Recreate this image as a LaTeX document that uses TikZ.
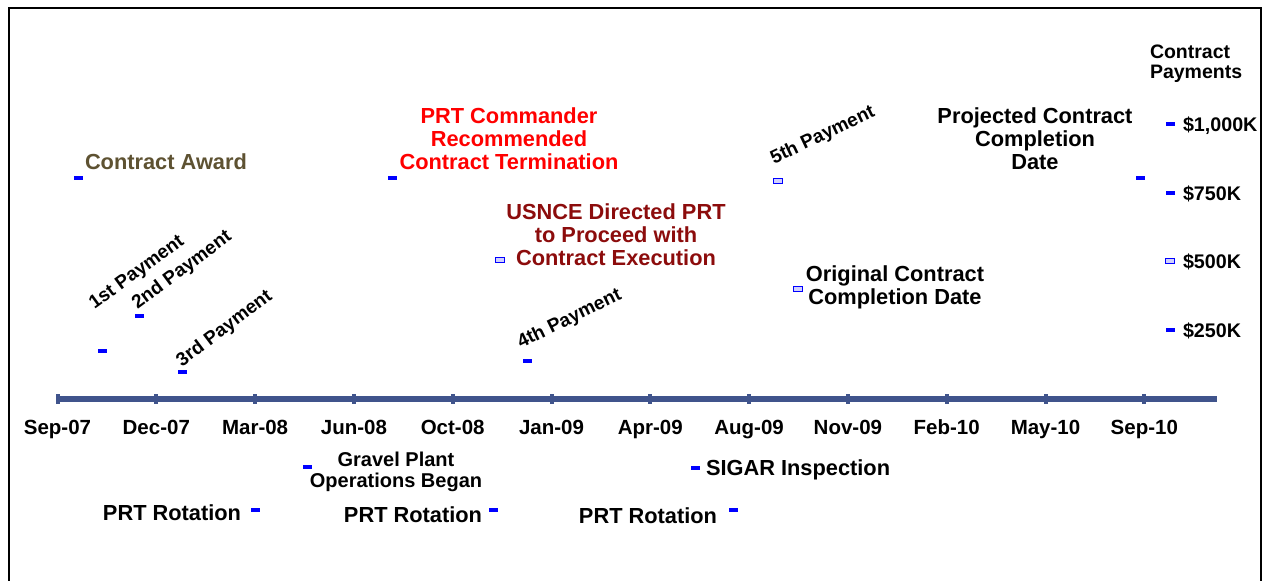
\documentclass[tikz,border=0pt]{standalone}
\usepackage{fontspec}
\setmainfont{Liberation Sans}
\usepackage{xcolor}

\definecolor{axisblue}{RGB}{64,84,140}
\definecolor{awardolive}{RGB}{94,82,50}
\definecolor{usncered}{RGB}{140,12,12}
\definecolor{markblue}{RGB}{0,0,255}

\begin{document}
\begin{tikzpicture}[x=0.5pt, y=-0.5pt,
    every node/.style = {inner sep=0, outer sep=0},
    evt/.style = {align=center, font=\bfseries\fontsize{10.9}{11.5}\selectfont},
    small/.style = {align=center, font=\bfseries\fontsize{10}{10.5}\selectfont},
    datelbl/.style = {anchor=base, font=\bfseries\fontsize{10.25}{12}\selectfont},
    paylbl/.style = {anchor=base west, font=\bfseries\fontsize{9.5}{10}\selectfont},
    amount/.style = {anchor=base west, font=\bfseries\fontsize{9.85}{10}\selectfont},
    dashmark/.style = {fill=markblue, minimum width=4.5pt, minimum height=1.6pt},
    boxmark/.style = {draw=markblue, line width=0.6pt, fill=markblue!18,
      minimum width=4.8pt, minimum height=2.2pt},
    tickbox/.style = {fill=axisblue, minimum width=2pt, minimum height=5pt},
    axisline/.style = {draw=axisblue, line width=2.6pt},
    framestroke/.style = {draw=black, line width=1.2pt}]
  \useasboundingbox (0,0) rectangle (1266,580);

  \coordinate (fr-bl) at (9,582);
  \coordinate (fr-tl) at (9,8);
  \coordinate (fr-tr) at (1261,8);
  \coordinate (fr-br) at (1261,582);
  \draw[framestroke] (fr-bl) -- (fr-tl) -- (fr-tr) -- (fr-br);

  % time axis
  \coordinate (axstart) at (57.5,399);
  \coordinate (axend) at (1217,399);
  \draw[axisline] (axstart) -- (axend);
  \foreach \d [count=\i from 0] in {Sep-07,Dec-07,Mar-08,Jun-08,Oct-08,Jan-09,
      Apr-09,Aug-09,Nov-09,Feb-10,May-10,Sep-10} {
    \node[tickbox] (tk\i) at ({57.5+98.8*\i},399) {};
    \node[datelbl] (dt\i) at ({57.5+98.8*\i},434.5) {\d};
  }

  % events above the axis
  \node[evt, anchor=base west, text=awardolive] (award) at (85,169) {Contract Award};
  \node[dashmark] (award-mk) at (78,178) {};
  \node[evt, anchor=north, text=red] (prtcmd) at (509,108)
    {PRT Commander\\Recommended\\Contract Termination};
  \node[dashmark] (prtcmd-mk) at (392,178) {};
  \node[evt, anchor=north, text=usncered] (usnce) at (616,204)
    {USNCE Directed PRT\\to Proceed with\\Contract Execution};
  \node[boxmark] (usnce-mk) at (500,260) {};
  \node[evt, anchor=north] (projected) at (1035,108)
    {Projected Contract\\Completion\\Date};
  \node[dashmark] (projected-mk) at (1140,178) {};
  \node[evt, anchor=north] (original) at (895,266)
    {Original Contract\\Completion Date};
  \node[boxmark] (original-mk) at (798,289) {};

  \node[paylbl, rotate=36] (pay1) at (94.5,309.5) {1st Payment};
  \node[dashmark] (pay1-mk) at (102,351) {};
  \node[paylbl, rotate=36.5] (pay2) at (137.5,309.5) {2nd Payment};
  \node[dashmark] (pay2-mk) at (139,316) {};
  \node[paylbl, rotate=37] (pay3) at (182,367) {3rd Payment};
  \node[dashmark] (pay3-mk) at (182,372) {};
  \node[paylbl, rotate=26] (pay4) at (521,348.5) {4th Payment};
  \node[dashmark] (pay4-mk) at (527,361) {};
  \node[paylbl, rotate=25.5] (pay5) at (774,164.5) {5th Payment};
  \node[boxmark] (pay5-mk) at (778,181) {};

  % contract payments scale
  \node[anchor=north west, align=left, font=\bfseries\fontsize{9.75}{10}\selectfont]
    (payhead) at (1150,45) {Contract\\Payments};
  \node[amount] (amt1000) at (1183,131) {\$1,000K};
  \node[dashmark] (amt1000-mk) at (1170,124) {};
  \node[amount] (amt750) at (1183,200) {\$750K};
  \node[dashmark] (amt750-mk) at (1170,193) {};
  \node[amount] (amt500) at (1183,268) {\$500K};
  \node[boxmark] (amt500-mk) at (1170,261) {};
  \node[amount] (amt250) at (1183,337) {\$250K};
  \node[dashmark] (amt250-mk) at (1170,330) {};

  % events below the axis
  \node[small, anchor=north] (gravel) at (396,452)
    {Gravel Plant\\Operations Began};
  \node[dashmark] (gravel-mk) at (307,467) {};
  \node[evt, anchor=base west] (sigar) at (706,475) {SIGAR Inspection};
  \node[dashmark] (sigar-mk) at (695,468) {};
  \node[evt, anchor=base] (rot1) at (172,520) {PRT Rotation};
  \node[dashmark] (rot1-mk) at (255,510) {};
  \node[evt, anchor=base] (rot2) at (413,522) {PRT Rotation};
  \node[dashmark] (rot2-mk) at (493,510) {};
  \node[evt, anchor=base] (rot3) at (648,523) {PRT Rotation};
  \node[dashmark] (rot3-mk) at (733,510) {};
\end{tikzpicture}
\end{document}
